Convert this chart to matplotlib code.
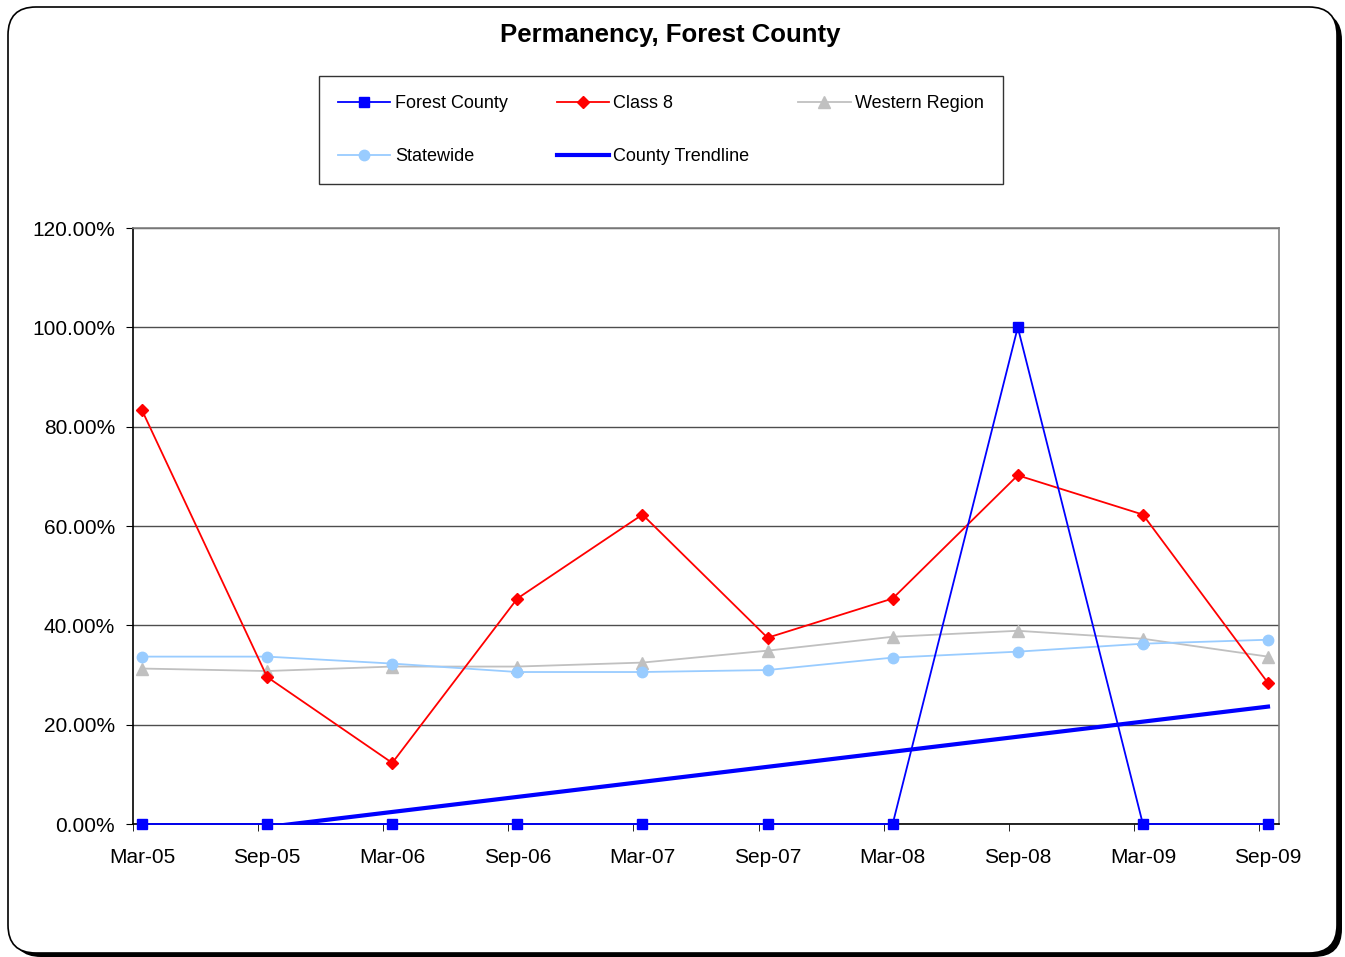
import numpy as np
import matplotlib
matplotlib.use('Agg')
import matplotlib.pyplot as plt
from matplotlib.patches import FancyBboxPatch
from matplotlib.ticker import FuncFormatter

plt.rcParams['font.family'] = ['Liberation Sans', 'DejaVu Sans']

# data (percent)
periods = ['Mar-05', 'Sep-05', 'Mar-06', 'Sep-06', 'Mar-07', 'Sep-07', 'Mar-08', 'Sep-08', 'Mar-09', 'Sep-09']
forest_county = [0, 0, 0, 0, 0, 0, 0, 100, 0, 0]
class_8 = [83.3, 29.6, 12.3, 45.4, 62.3, 37.5, 45.4, 70.2, 62.3, 28.4]
western_region = [31.3, 30.8, 31.7, 31.7, 32.5, 34.9, 37.7, 38.9, 37.3, 33.7]
statewide = [33.7, 33.7, 32.3, 30.6, 30.6, 31.0, 33.5, 34.7, 36.3, 37.1]

W, H = 1345, 957
fig = plt.figure(figsize=(W / 100, H / 100), dpi=100)

# outer rounded frame with shadow, drawn in pixel units
bg = fig.add_axes([0, 0, 1, 1])
bg.set_xlim(0, W)
bg.set_ylim(H, 0)
bg.axis('off')
bg.set_zorder(0)
shadow = FancyBboxPatch((13, 12), 1329, 945, boxstyle='round,pad=0,rounding_size=28',
                        fc='black', ec='black', lw=0)
frame = FancyBboxPatch((8, 7), 1329, 946, boxstyle='round,pad=0,rounding_size=28',
                       fc='white', ec='black', lw=1.2)
bg.add_patch(shadow)
bg.add_patch(frame)

ax = fig.add_axes([133 / W, 1 - 824 / H, (1279 - 133) / W, (824 - 228) / H])
ax.set_zorder(1)

x = np.arange(len(periods))
ax.plot(x, forest_county, color='#0000FF', lw=1.3, marker='s', ms=7.5, label='Forest County', zorder=8, clip_on=False)
ax.plot(x, statewide, color='#99CCFF', lw=1.3, marker='o', ms=7.5, label='Statewide', zorder=3)
ax.plot(x, class_8, color='#FF0000', lw=1.3, marker='D', ms=6.5, label='Class 8', zorder=4)
coef = np.polyfit(x, forest_county, 1)
ax.plot(x, np.polyval(coef, x), color='#0000FF', lw=3, label='County Trendline', zorder=6)
ax.plot(x, western_region, color='#C0C0C0', lw=1.3, marker='^', ms=8.5, label='Western Region', zorder=2)

ax.set_ylim(0, 120)
ax.set_xlim(-0.072, 9.088)
ax.set_yticks(np.arange(0, 121, 20))
ax.yaxis.set_major_formatter(FuncFormatter(lambda v, p: '%.2f%%' % v))
ax.grid(axis='y', color='#4d4d4d', lw=1)
ax.set_axisbelow(True)

ax.set_xticks(x)
ax.set_xticklabels(periods)
ax.set_xticks(x - 0.072, minor=True)
ax.tick_params(axis='x', which='major', length=0, pad=17, labelsize=15)
ax.tick_params(axis='x', which='minor', length=5, direction='out', color='black')
ax.tick_params(axis='y', length=5, direction='out', pad=8, labelsize=15)

ax.spines['left'].set_color('black')
ax.spines['bottom'].set_color('black')
ax.spines['top'].set_color('#808080')
ax.spines['right'].set_color('#808080')
for s in ax.spines.values():
    s.set_linewidth(1.2)
ax.spines['bottom'].set_zorder(7)

fig.text(670 / W, 1 - 35 / H, 'Permanency, Forest County', ha='center', va='center',
         fontsize=18.5, fontweight='bold')

leg = fig.legend(loc='upper left', bbox_to_anchor=(319 / W, 1 - 186 / H, (1003 - 319) / W, (186 - 76) / H),
                 mode='expand', ncol=3, borderaxespad=0, fontsize=13, frameon=True, fancybox=False,
                 edgecolor='black', handlelength=2.9, handletextpad=0.25, labelspacing=2.0,
                 borderpad=1.05, columnspacing=1.0)
leg.get_frame().set_linewidth(1)

fig.savefig('out.png', dpi=100)
